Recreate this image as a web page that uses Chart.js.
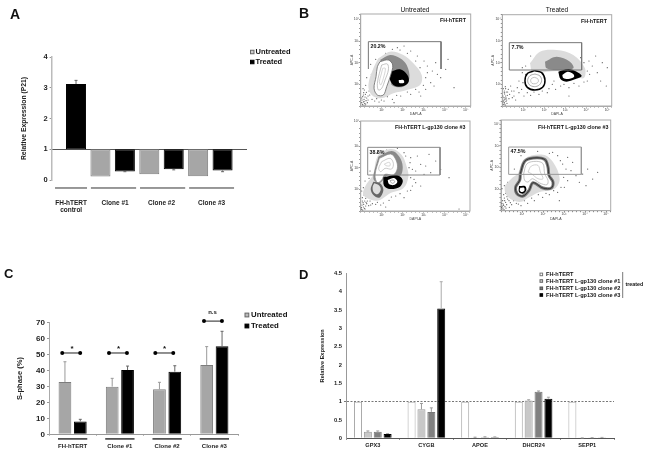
<!DOCTYPE html>
<html>
<head>
<meta charset="utf-8">
<script src="https://cdn.jsdelivr.net/npm/chart.js@4"></script>
<style>
  html, body { margin: 0; padding: 0; background: #fff; }
  body { width: 650px; height: 455px; position: relative; overflow: hidden; }
  canvas { position: absolute; left: 0; top: 0; }
</style>
</head>
<body>
<canvas id="chartA" width="650" height="455"></canvas>
<canvas id="flow1" width="650" height="455"></canvas>
<canvas id="flow2" width="650" height="455"></canvas>
<canvas id="flow3" width="650" height="455"></canvas>
<canvas id="flow4" width="650" height="455"></canvas>
<canvas id="chartC" width="650" height="455"></canvas>
<canvas id="chartD" width="650" height="455"></canvas>
<script>
// panel A, relative expression of P21
const slotsA = ['', 'FH-hTERT control', 'Clone #1 U', 'Clone #1 T', 'Clone #2 U', 'Clone #2 T', 'Clone #3 U', 'Clone #3 T', '']
const untreatedA = [null, null, 0.11, null, 0.19, null, 0.12, null, null]
const treatedA = [null, 3.12, null, 0.28, null, 0.35, null, 0.31, null]
const treatedErrA = [null, 3.24, null, 0.27, null, 0.33, null, 0.27, null]
const groupsA = [['FH-hTERT', 'control'], 'Clone #1', 'Clone #2', 'Clone #3']
const groupPosA = [0.8, 2.6, 4.5, 6.55]
const groupLinesA = [[0.14, 1.45], [1.61, 3.46], [3.62, 5.47], [5.63, 7.47]]

// panel C, S-phase
const groupsC = ['FH-hTERT', 'Clone #1', 'Clone #2', 'Clone #3']
const untreatedC = [32.8, 29.9, 28.2, 43.5]
const untreatedErrC = [45.5, 35.1, 32.6, 55]
const treatedC = [8.1, 40.3, 39.3, 55.2]
const treatedErrC = [9.4, 42.8, 43, 64.6]
const sigLevelC = [51, 51, 51, 71]
const sigCenterC = [-0.03, -0.04, -0.06, -0.03]
const sigTextC = ['*', '*', '*', 'n.s']

// panel D, gene expression
const genesD = ['GPX3', 'CYGB', 'APOE', 'DHCR24', 'SEPP1']
const seriesNamesD = ['FH-hTERT', 'FH-hTERT L-gp130 clone #1', 'FH-hTERT L-gp130 clone #2', 'FH-hTERT L-gp130 clone #3']
const parentD = [1, 1, 1, 1, 1]
const clone1D = [0.18, 0.79, 0.02, 1.03, 0.005]
const clone2D = [0.18, 0.72, 0.03, 1.27, 0.01]
const clone3D = [0.12, 3.54, 0.03, 1.08, 0.02]
const clone1ErrD = [0.2, 0.95, 0.03, 1.05, 0.01]
const clone2ErrD = [0.2, 0.83, 0.04, 1.29, 0.015]
const clone3ErrD = [0.13, 4.27, 0.04, 1.12, 0.025]

// panel B, flow plots (x, y in plot units)
const flowTicks = ['10¹', '10²', '10³', '10⁴', '10⁵']

const f1Gate = [[23,111],[23,193],[241,193],[241,111]]
const f1Cloud = [[53,143],[88,163],[128,153],[158,128],[183,93],[178,63],[138,48],[98,38],[63,23],[33,33],[23,63],[38,113]]
const f1Halo = [[58,138],[88,153],[118,143],[138,123],[146,83],[128,58],[93,63],[93,93]]
const f1Black = [[90,103],[118,110],[140,93],[144,73],[128,60],[103,60],[88,78]]
const f1Spot = [[114,78],[128,78],[130,70],[116,69]]
const f1Blob = [[58,133],[83,138],[96,123],[90,93],[78,58],[68,33],[50,33],[40,53],[46,88],[50,118]]
const f1Ring = [[63,123],[80,126],[83,108],[73,78],[63,53],[53,48],[50,68],[56,98]]
const f1Core = [[66,113],[74,113],[68,83],[60,63],[56,73],[61,93]]
const f1Dots = [[5,5],[8,12],[10,20],[6,28],[12,8],[14,35],[9,40],[16,16],[4,18],[18,24],[11,48],[7,52],[20,10],[13,3],[22,30],[25,45],[28,70],[35,90],[18,85],[42,15],[55,12],[70,15],[95,20],[120,30],[150,35],[175,42],[195,50],[210,70],[220,60],[240,85],[262,140],[255,110],[200,120],[215,105],[190,135],[170,150],[150,165],[130,180],[110,175],[230,95],[180,30],[280,55],[100,10],[30,125],[225,130],[3,10],[7,3],[10,14],[15,6],[3,24],[8,33],[13,27],[17,41],[22,18],[27,33],[32,55],[15,62],[34,20],[48,22],[62,18],[80,28],[108,32],[140,42],[165,50],[188,62],[195,85],[200,100],[178,115],[165,135],[140,158],[118,168],[95,170],[75,158],[45,140],[32,95]]

const f2Gate = [[21,108],[21,190],[238,190],[238,108]]
const f2Cloud = [[83,128],[113,163],[163,168],[213,153],[248,113],[243,83],[193,103],[133,103],[93,93]]
const f2Halo = [[128,133],[163,148],[203,133],[213,113],[168,108],[133,113]]
const f2Ring = [[98,106],[118,100],[128,78],[121,56],[98,48],[75,56],[68,76],[76,98]]
const f2RingIn = [[98,96],[113,90],[118,76],[111,63],[96,58],[81,64],[76,77],[83,91]]
const f2Core = [[96,86],[106,82],[108,73],[100,67],[89,68],[85,76],[88,83]]
const f2Black = [[168,103],[198,111],[223,103],[238,90],[218,80],[193,73],[175,80]]
const f2Spot = [[180,93],[196,103],[213,96],[215,87],[198,81],[183,84]]
const f2Dots = [[3,5],[6,10],[9,3],[4,15],[8,20],[11,14],[5,25],[10,30],[7,36],[12,42],[6,45],[14,8],[3,52],[9,58],[12,24],[15,32],[18,50],[25,60],[22,35],[30,25],[40,18],[35,45],[50,40],[65,30],[85,32],[110,35],[135,40],[160,50],[150,65],[175,60],[200,55],[230,60],[255,75],[262,95],[270,120],[285,100],[300,130],[315,115],[280,150],[260,135],[295,75],[60,115],[70,95],[50,75],[100,130],[85,150],[200,30],[312,60],[2,12],[7,6],[5,18],[2,30],[9,24],[13,18],[6,40],[10,52],[16,42],[20,22],[28,45],[35,30],[45,55],[58,50],[62,70],[75,40],[95,42],[120,45],[140,52],[155,75],[185,65],[215,68],[245,72],[255,105],[245,130],[235,145],[120,120],[70,120],[95,110],[60,100]]

const f3Gate = [[21,108],[21,191],[238,191],[238,108]]
const f3Cloud = [[38,108],[53,168],[93,186],[123,168],[138,133],[143,103],[128,68],[88,53],[58,33],[33,33],[8,48],[13,73]]
const f3Halo = [[53,163],[93,180],[116,163],[126,133],[118,106],[80,106],[68,93],[53,83],[38,98]]
const f3Blob = [[56,158],[90,171],[106,153],[110,128],[98,108],[73,110],[63,93],[50,85],[43,108]]
const f3Ring = [[63,148],[88,158],[98,143],[93,126],[73,128],[60,118],[54,128]]
const f3Core = [[71,141],[86,146],[88,136],[76,136]]
const f3Black = [[68,101],[108,108],[126,93],[118,73],[88,66],[70,76]]
const f3Spot = [[81,93],[100,99],[110,88],[100,78],[85,81]]
const f3SpotIn = [[88,91],[98,93],[102,87],[94,83]]
const f3Low = [[38,88],[58,83],[68,63],[56,40],[38,48],[30,66]]
const f3LowIn = [[41,83],[56,76],[60,63],[50,50],[38,58],[36,73]]
const f3Dots = [[3,5],[6,3],[8,12],[4,18],[11,8],[15,15],[7,25],[12,30],[18,22],[5,40],[10,48],[15,38],[20,30],[24,16],[3,60],[8,70],[13,90],[20,58],[25,98],[30,18],[45,20],[60,18],[85,32],[105,45],[130,40],[150,62],[165,85],[180,75],[145,130],[165,120],[180,140],[150,160],[170,165],[195,135],[210,115],[225,150],[205,170],[190,110],[265,100],[240,125],[130,175],[28,120],[160,95],[295,6],[75,12],[2,10],[9,20],[13,6],[5,30],[16,26],[22,42],[28,30],[35,22],[50,26],[68,24],[92,42],[118,52],[140,60],[155,75],[150,100],[155,125],[148,145],[135,165],[110,188],[78,183],[50,175]]

const f4Gate = [[23,109],[23,191],[241,191],[241,109]]
const f4Cloud = [[51,111],[71,156],[126,168],[156,146],[176,96],[161,66],[116,56],[86,41],[56,26],[21,41],[11,71],[31,96]]
const f4Blob = [[58,111],[71,148],[96,158],[131,154],[141,131],[144,106],[156,86],[151,68],[126,68],[96,84],[84,61],[66,44],[48,51],[44,71],[56,91]]
const f4Ring = [[68,111],[78,141],[106,148],[126,141],[131,111],[141,91],[138,78],[116,83],[94,96],[81,86],[71,91]]
const f4Core = [[81,116],[91,134],[111,136],[118,116],[126,96],[111,96],[91,111]]
const f4Black = [[54,74],[72,74],[76,61],[66,51],[54,56]]
const f4Spot = [[58,69],[69,69],[70,60],[61,56],[56,61]]
const f4Dots = [[3,5],[6,8],[4,14],[9,3],[12,12],[7,20],[14,25],[5,30],[10,38],[17,18],[20,35],[25,10],[28,24],[8,48],[14,52],[3,66],[10,75],[22,60],[30,50],[38,30],[46,22],[60,15],[80,22],[100,30],[125,40],[145,48],[170,55],[190,70],[200,90],[210,120],[225,105],[245,110],[260,125],[290,115],[185,140],[200,160],[170,165],[215,145],[235,85],[275,95],[20,85],[35,90],[255,75],[155,175],[175,30],[2,10],[8,16],[15,8],[3,22],[11,30],[18,42],[24,30],[32,18],[40,40],[52,20],[70,30],[92,38],[112,48],[135,52],[158,60],[180,70],[188,100],[195,125],[178,150],[145,172],[110,178],[60,165],[40,125]]

Chart.defaults.font.family = '"Liberation Sans", Arial, sans-serif'
Chart.defaults.color = '#222'

const GRAY = '#a6a6a6'
const GRAY_EDGE = '#7c7c7c'
const BLACK = '#000'

// whiskers: dataset.errTo is where it ends, dataset.errFrom where it starts
const whiskers = {
  id: 'whiskers',
  afterDatasetsDraw(chart) {
    const ctx = chart.ctx
    const y = chart.scales.y
    chart.data.datasets.forEach((ds, i) => {
      if (!ds.errTo) return
      const bars = chart.getDatasetMeta(i).data
      ctx.save()
      ctx.strokeStyle = ds.errColor || ds.borderColor
      ctx.lineWidth = 1
      ds.errTo.forEach((v, j) => {
        if (v === null) return
        const x = bars[j].x
        const to = y.getPixelForValue(v)
        ctx.beginPath()
        ctx.moveTo(x, y.getPixelForValue(ds.errFrom[j]))
        ctx.lineTo(x, to)
        ctx.moveTo(x - 1.5, to)
        ctx.lineTo(x + 1.5, to)
        ctx.stroke()
      })
      ctx.restore()
    })
  }
}

// spans between two category positions at one value, with optional end dots
const spans = {
  id: 'spans',
  afterDatasetsDraw(chart, args, opts) {
    const ctx = chart.ctx
    const {x, y} = chart.scales
    ctx.save()
    ;(opts.items || []).forEach(s => {
      const x1 = x.getPixelForValue(s.from)
      const x2 = x.getPixelForValue(s.to)
      const py = y.getPixelForValue(s.value)
      ctx.strokeStyle = s.color
      ctx.lineWidth = s.width
      ctx.beginPath()
      ctx.moveTo(x1, py)
      ctx.lineTo(x2, py)
      ctx.stroke()
      if (s.dots) {
        ctx.fillStyle = '#000'
        ;[x1, x2].forEach(px => {
          ctx.beginPath()
          ctx.arc(px, py, 2, 0, Math.PI * 2)
          ctx.fill()
        })
      }
    })
    ctx.restore()
  }
}

// free text and legend swatches, in canvas pixels
const notes = {
  id: 'notes',
  afterDraw(chart, args, opts) {
    const ctx = chart.ctx
    ctx.save()
    ;(opts.swatches || []).forEach(s => {
      ctx.fillStyle = s.fill
      ctx.strokeStyle = s.edge
      ctx.lineWidth = 1
      ctx.fillRect(s.x, s.y - s.size / 2, s.size, s.size)
      ctx.strokeRect(s.x, s.y - s.size / 2, s.size, s.size)
    })
    ;(opts.lines || []).forEach(l => {
      ctx.strokeStyle = l.color
      ctx.lineWidth = l.width
      ctx.beginPath()
      ctx.moveTo(l.x1, l.y1)
      ctx.lineTo(l.x2, l.y2)
      ctx.stroke()
    })
    ;(opts.texts || []).forEach(t => {
      ctx.font = t.font
      ctx.fillStyle = t.color || '#111'
      ctx.textAlign = t.align || 'left'
      ctx.textBaseline = 'middle'
      ctx.fillText(t.text, t.x, t.y)
    })
    ctx.restore()
  }
}

const plotBox = {
  id: 'plotBox',
  beforeDatasetsDraw(chart, args, opts) {
    if (!opts.color) return
    const a = chart.chartArea
    chart.ctx.save()
    chart.ctx.strokeStyle = opts.color
    chart.ctx.lineWidth = 1
    chart.ctx.strokeRect(a.left, a.top, a.right - a.left, a.bottom - a.top)
    chart.ctx.restore()
  }
}

function place(left, top, right, bottom, yW, xH) {
  return {padding: {left: left - yW, top: top, right: 650 - right, bottom: 455 - bottom - xH}}
}

function baseOptions(layout, noteOpts, extra) {
  return {
    responsive: false,
    animation: false,
    layout: layout,
    plugins: {legend: {display: false}, tooltip: {enabled: false}, notes: noteOpts, ...extra}
  }
}

const floating = arr => arr.map(v => v === null ? null : [1, v])

// A
new Chart(document.getElementById('chartA'), {
  type: 'bar',
  plugins: [whiskers, notes],
  data: {
    labels: slotsA,
    datasets: [
      {label: 'Untreated', data: floating(untreatedA), backgroundColor: GRAY, borderColor: GRAY_EDGE, borderWidth: 1, borderSkipped: false, grouped: false, categoryPercentage: 1, barPercentage: 0.82},
      {label: 'Treated', data: floating(treatedA), backgroundColor: BLACK, borderColor: BLACK, borderWidth: 1, borderSkipped: false, grouped: false, categoryPercentage: 1, barPercentage: 0.82, errTo: treatedErrA, errFrom: treatedA, errColor: '#666'},
      ...groupLinesA.map(g => ({type: 'line', xAxisID: 'x2', data: [[g[0], -0.26], [g[1], -0.26]], borderColor: '#333', borderWidth: 1, pointRadius: 0, clip: false, order: -1}))
    ]
  },
  options: {
    ...baseOptions(place(51.6, 57, 247, 180, 32, 40), {
      texts: [
        {text: 'A', x: 10, y: 15, font: 'bold 14px "Liberation Sans"'},
        {text: 'Untreated', x: 255.5, y: 52, font: 'bold 7.5px "Liberation Sans"'},
        {text: 'Treated', x: 255.5, y: 62, font: 'bold 7.5px "Liberation Sans"'}
      ],
      swatches: [
        {x: 250.5, y: 52, size: 3.5, fill: '#ccc', edge: '#666'},
        {x: 250.5, y: 62, size: 3.5, fill: BLACK, edge: BLACK}
      ]
    }),
    scales: {
      x: {
        position: {y: 1}, offset: false,
        ticks: {display: false},
        grid: {display: false},
        border: {color: '#555', width: 1}
      },
      x2: {
        type: 'linear', position: 'bottom', min: 0, max: 8, offset: false,
        afterBuildTicks: s => { s.ticks = groupPosA.map(v => ({value: v})) },
        afterFit: s => { s.height = 40 },
        ticks: {callback: (v, i) => groupsA[i], font: {size: 6.5, weight: 'bold'}, padding: 11, maxRotation: 0, autoSkip: false, color: '#222'},
        grid: {display: false},
        border: {display: false}
      },
      y: {
        min: 0, max: 4,
        afterFit: s => { s.width = 32 },
        ticks: {stepSize: 1, font: {size: 7.5, weight: 'bold'}, padding: 2, color: '#222'},
        grid: {drawOnChartArea: false, tickLength: 2, color: '#999'},
        border: {color: '#bbb', width: 1.5},
        title: {display: true, text: 'Relative Expression (P21)', font: {size: 6.8, weight: 'bold'}, padding: 0, color: '#222'}
      }
    }
  }
})

// B
function flowChart(id, frame, layers, dots, noteOpts) {
  const w = (frame[2] - frame[0]) * 3
  const h = (frame[3] - frame[1]) * 3
  const sets = layers.map((l, i) => ({
    type: 'line',
    data: l.open ? l.pts : l.pts.concat([l.pts[0]]),
    fill: l.fill ? 'shape' : false,
    backgroundColor: l.fill,
    borderColor: l.edge || 'transparent',
    borderWidth: l.width || 0,
    tension: l.open ? 0 : 0.35,
    pointRadius: 0,
    order: layers.length - i + 1
  }))
  sets.push({type: 'scatter', data: dots, pointRadius: 0.6, borderWidth: 0, backgroundColor: '#555', order: layers.length + 2})
  const opts = baseOptions(place(frame[0], frame[1], frame[2], frame[3], 11, 10), noteOpts, {plotBox: {color: '#aaa'}})
  new Chart(document.getElementById(id), {
    type: 'scatter',
    plugins: [plotBox, notes],
    data: {datasets: sets},
    options: {
      ...opts,
      scales: {
        x: {
          type: 'linear', min: 0, max: w,
          afterFit: s => { s.height = 10 },
          ticks: {stepSize: 12.6, autoSkip: false, maxRotation: 0, padding: 0, font: {size: 3.5}, color: '#444', callback: (v, i) => (i > 0 && i % 5 === 0) ? flowTicks[i / 5 - 1] : ''},
          grid: {drawOnChartArea: false, tickLength: 1.5, color: '#555', lineWidth: 0.7},
          border: {color: '#aaa'},
          title: {display: true, text: 'DAPI-A', font: {size: 3.5}, padding: 0, color: '#444'}
        },
        y: {
          type: 'linear', min: 0, max: h,
          afterFit: s => { s.width = 11 },
          ticks: {stepSize: 13, autoSkip: false, padding: 0, font: {size: 3.5}, color: '#444', callback: (v, i) => (i > 0 && i % 5 === 0) ? flowTicks[i / 5 - 1] : ''},
          grid: {drawOnChartArea: false, tickLength: 1.5, color: '#555', lineWidth: 0.7},
          border: {color: '#aaa'},
          title: {display: true, text: 'APC-A', font: {size: 3.5}, padding: 0, color: '#444'}
        }
      }
    }
  })
}

const LIGHT = '#dcdcdc'
const MID = '#8a8a8a'
const bold55 = 'bold 5.3px "Liberation Sans"'

flowChart('flow1', [360.7, 14, 470.7, 106], [
  {pts: f1Cloud, fill: LIGHT},
  {pts: f1Halo, fill: MID},
  {pts: f1Black, fill: '#000'},
  {pts: f1Spot, fill: '#fff'},
  {pts: f1Blob, fill: '#fff', edge: '#666', width: 0.8},
  {pts: f1Ring, edge: '#aaa', width: 0.7},
  {pts: f1Core, edge: '#c4c4c4', width: 0.7},
  {pts: f1Gate, edge: '#777', width: 1, open: true}
], f1Dots, {
  texts: [
    {text: 'B', x: 299, y: 14, font: 'bold 14px "Liberation Sans"'},
    {text: 'Untreated', x: 415, y: 10, align: 'center', font: '6.6px "Liberation Sans"'},
    {text: 'FH-hTERT', x: 440, y: 21, font: bold55},
    {text: '20.2%', x: 370.5, y: 46.5, font: bold55}
  ]
})

flowChart('flow2', [502.3, 14.7, 611.7, 106], [
  {pts: f2Cloud, fill: LIGHT},
  {pts: f2Halo, fill: MID},
  {pts: f2Ring, fill: '#fff', edge: '#000', width: 1.5},
  {pts: f2RingIn, edge: '#888', width: 0.7},
  {pts: f2Core, edge: '#aaa', width: 0.7},
  {pts: f2Black, fill: '#000'},
  {pts: f2Spot, fill: '#fff'},
  {pts: f2Gate.concat([f2Gate[0]]), edge: '#777', width: 1, open: true}
], f2Dots, {
  texts: [
    {text: 'Treated', x: 557, y: 10, align: 'center', font: '6.6px "Liberation Sans"'},
    {text: 'FH-hTERT', x: 581, y: 22, font: bold55},
    {text: '7.7%', x: 511.5, y: 47.5, font: bold55}
  ]
})

flowChart('flow3', [360.7, 121, 470, 211], [
  {pts: f3Cloud, fill: LIGHT},
  {pts: f3Halo, fill: MID},
  {pts: f3Blob, fill: '#fff', edge: '#888', width: 0.7},
  {pts: f3Ring, edge: '#b4b4b4', width: 0.7},
  {pts: f3Core, edge: '#c4c4c4', width: 0.7},
  {pts: f3Low, fill: '#666'},
  {pts: f3LowIn, fill: '#ddd'},
  {pts: f3Black, fill: '#000'},
  {pts: f3Spot, fill: '#fff'},
  {pts: f3SpotIn, edge: '#888', width: 0.7},
  {pts: f3Gate.concat([f3Gate[0]]), edge: '#888', width: 1, open: true}
], f3Dots, {
  texts: [
    {text: 'FH-hTERT L-gp130 clone #3', x: 395, y: 128, font: bold55},
    {text: '38.8%', x: 369.5, y: 152.5, font: bold55}
  ]
})

flowChart('flow4', [501, 120, 610.7, 210.7], [
  {pts: f4Cloud, fill: LIGHT},
  {pts: f4Blob, fill: '#fff', edge: '#777', width: 3},
  {pts: f4Blob, edge: '#222', width: 0.8},
  {pts: f4Ring, edge: '#aaa', width: 0.7},
  {pts: f4Core, edge: '#bbb', width: 0.7},
  {pts: f4Black, fill: '#000'},
  {pts: f4Spot, fill: '#fff'},
  {pts: f4Gate.concat([f4Gate[0]]), edge: '#999', width: 1, open: true}
], f4Dots, {
  texts: [
    {text: 'FH-hTERT L-gp130 clone #3', x: 538, y: 127.5, font: bold55},
    {text: '47.5%', x: 510.5, y: 151.5, font: bold55}
  ]
})

// C
const underlinesC = groupsC.map((g, i) => ({from: i - 0.31, to: i + 0.31, value: -2.9, color: '#000', width: 1.2}))
const bracketsC = groupsC.map((g, i) => ({from: i + sigCenterC[i] - 0.19, to: i + sigCenterC[i] + 0.19, value: sigLevelC[i], color: '#222', width: 1, dots: true}))
new Chart(document.getElementById('chartC'), {
  type: 'bar',
  plugins: [whiskers, spans, notes],
  data: {
    labels: groupsC,
    datasets: [
      {label: 'Untreated', data: untreatedC, backgroundColor: GRAY, borderColor: GRAY_EDGE, borderWidth: 1, categoryPercentage: 0.65, barPercentage: 0.83, errTo: untreatedErrC, errFrom: untreatedC, errColor: '#999'},
      {label: 'Treated', data: treatedC, backgroundColor: BLACK, borderColor: BLACK, borderWidth: 1, categoryPercentage: 0.65, barPercentage: 0.83, errTo: treatedErrC, errFrom: treatedC, errColor: '#666'}
    ]
  },
  options: {
    ...baseOptions(place(49, 322.7, 238, 434.3, 34, 16), {
      texts: [
        {text: 'C', x: 4, y: 274, font: 'bold 13px "Liberation Sans"'},
        {text: 'Untreated', x: 251, y: 315, font: 'bold 7.8px "Liberation Sans"'},
        {text: 'Treated', x: 251, y: 326, font: 'bold 7.8px "Liberation Sans"'},
        {text: sigTextC[0], x: 72, y: 349, align: 'center', font: 'bold 8px "Liberation Sans"'},
        {text: sigTextC[1], x: 118.5, y: 349, align: 'center', font: 'bold 8px "Liberation Sans"'},
        {text: sigTextC[2], x: 164.5, y: 349, align: 'center', font: 'bold 8px "Liberation Sans"'},
        {text: sigTextC[3], x: 212.5, y: 312.5, align: 'center', font: 'bold 6px "Liberation Sans"'}
      ],
      swatches: [
        {x: 245, y: 315, size: 3.8, fill: '#bbb', edge: '#666'},
        {x: 245, y: 326, size: 3.8, fill: BLACK, edge: BLACK}
      ]
    }, {spans: {items: underlinesC.concat(bracketsC)}}),
    scales: {
      x: {
        afterFit: s => { s.height = 16 },
        ticks: {font: {size: 6, weight: 'bold'}, padding: 7, maxRotation: 0, color: '#222'},
        grid: {drawOnChartArea: false, tickLength: 1.5, color: '#aaa'},
        border: {color: '#999', width: 1}
      },
      y: {
        min: 0, max: 70,
        afterFit: s => { s.width = 34 },
        ticks: {stepSize: 10, font: {size: 8, weight: 'bold'}, padding: 2, color: '#222'},
        grid: {drawOnChartArea: false, tickLength: 2, color: '#999'},
        border: {color: '#aaa', width: 1},
        title: {display: true, text: 'S-phase (%)', font: {size: 7.5, weight: 'bold'}, padding: 0, color: '#222'}
      }
    }
  }
})

// D
const dOpts = {categoryPercentage: 0.737, barPercentage: 0.81, borderWidth: 1}
new Chart(document.getElementById('chartD'), {
  type: 'bar',
  plugins: [whiskers, notes],
  data: {
    labels: genesD,
    datasets: [
      {label: seriesNamesD[0], data: parentD, backgroundColor: '#fff', borderColor: '#aaa', ...dOpts},
      {label: seriesNamesD[1], data: clone1D, backgroundColor: '#c8c8c8', borderColor: '#999', errTo: clone1ErrD, errFrom: clone1D, errColor: '#999', ...dOpts},
      {label: seriesNamesD[2], data: clone2D, backgroundColor: '#808080', borderColor: '#777', errTo: clone2ErrD, errFrom: clone2D, errColor: '#999', ...dOpts},
      {label: seriesNamesD[3], data: clone3D, backgroundColor: BLACK, borderColor: BLACK, errTo: clone3ErrD, errFrom: clone3D, errColor: '#aaa', ...dOpts}
    ]
  },
  options: {
    ...baseOptions(place(346, 273.3, 614, 438.3, 27, 14), {
      texts: [
        {text: 'D', x: 299, y: 275, font: 'bold 13px "Liberation Sans"'},
        ...seriesNamesD.map((n, i) => ({text: n, x: 546, y: [274.4, 281, 288.3, 295][i], font: 'bold 5.6px "Liberation Sans"'})),
        {text: 'treated', x: 625.5, y: 284.5, font: 'bold 5.3px "Liberation Sans"'}
      ],
      swatches: [
        {x: 540, y: 274.4, size: 2.6, fill: '#fff', edge: '#777'},
        {x: 540, y: 281, size: 2.6, fill: '#ccc', edge: '#666'},
        {x: 540, y: 288.3, size: 2.6, fill: '#777', edge: '#555'},
        {x: 540, y: 295, size: 2.6, fill: BLACK, edge: BLACK}
      ],
      lines: [{x1: 622.7, y1: 272, x2: 622.7, y2: 298, color: '#555', width: 0.8}]
    }),
    scales: {
      x: {
        afterFit: s => { s.height = 14 },
        ticks: {font: {size: 5.6, weight: 'bold'}, padding: 2, maxRotation: 0, color: '#222'},
        grid: {drawOnChartArea: false, tickLength: 1.5, color: '#777'},
        border: {color: '#555', width: 1}
      },
      y: {
        min: 0, max: 4.5,
        afterFit: s => { s.width = 27 },
        ticks: {stepSize: 0.5, font: {size: 5.8, weight: 'bold'}, padding: 2, color: '#222', callback: v => v},
        grid: {tickLength: 2, color: c => c.tick && c.tick.value === 1 ? '#777' : 'transparent', lineWidth: 1},
        border: {color: '#999', width: 1, dash: c => c.tick && c.tick.value === 1 ? [2, 1.5] : []},
        title: {display: true, text: 'Relative Expression', font: {size: 5.6, weight: 'bold'}, padding: 0, color: '#222'}
      }
    }
  }
})
</script>
</body>
</html>
